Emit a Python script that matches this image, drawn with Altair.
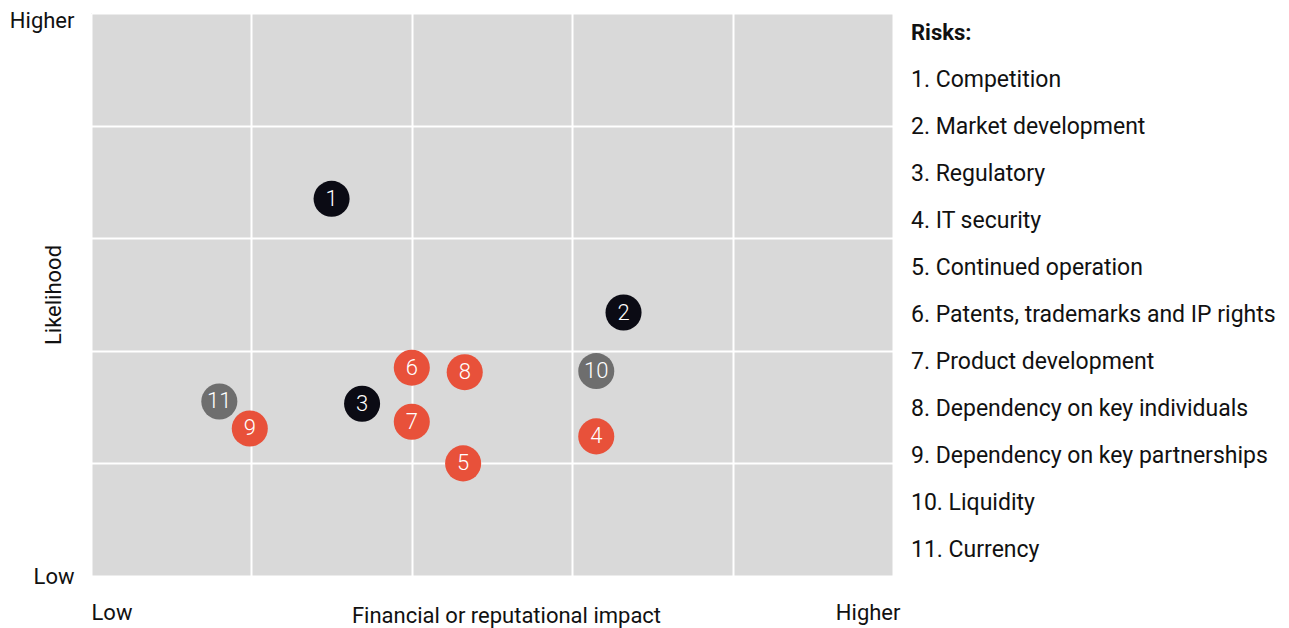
import altair as alt
import pandas as pd

risk_ids = [1, 2, 3, 4, 5, 6, 7, 8, 9, 10, 11]
risk_names = ["Competition", "Market development", "Regulatory", "IT security",
              "Continued operation", "Patents, trademarks and IP rights",
              "Product development", "Dependency on key individuals",
              "Dependency on key partnerships", "Liquidity", "Currency"]
impact = [1.50, 3.32, 1.69, 3.15, 2.32, 2.00, 2.00, 2.33, 0.99, 3.15, 0.80]
likelihood = [3.35, 2.34, 1.53, 1.24, 1.00, 1.85, 1.37, 1.81, 1.31, 1.82, 1.55]
group = ["black", "black", "black", "red", "red", "red", "red", "red", "red", "gray", "gray"]

labels = [f"{i}. {n}" for i, n in zip(risk_ids, risk_names)]
df = pd.DataFrame({"id": [str(i) for i in risk_ids], "label": labels,
                   "impact": impact, "likelihood": likelihood, "group": group})

FONT = "Roboto"
W, H = 802, 563

xenc = alt.X("impact:Q", scale=alt.Scale(domain=[0, 5], nice=False, zero=False),
             axis=alt.Axis(values=[0, 1, 2, 3, 4, 5],
                           labelExpr="datum.value == 0 ? 'Low' : datum.value == 5 ? 'Higher' : ''",
                           labelAlign=alt.condition("datum.value == 0", alt.value("left"), alt.value("right")),
                           labelOffset=alt.condition("datum.value == 5", alt.value(7), alt.value(0)),
                           labelPadding=26, domain=False, ticks=False,
                           title="Financial or reputational impact",
                           titleX=415, titleY=39, titleBaseline="middle", titleAlign="center",
                           gridColor="white", gridWidth=2, gridOpacity=1))
yenc = alt.Y("likelihood:Q", scale=alt.Scale(domain=[0, 5], nice=False, zero=False),
             axis=alt.Axis(values=[0, 1, 2, 3, 4, 5],
                           labelExpr="datum.value == 0 ? 'Low' : datum.value == 5 ? 'Higher' : ''",
                           labelBaseline=alt.condition("datum.value == 5", alt.value("top"), alt.value("middle")),
                           labelOffset=alt.condition("datum.value == 5", alt.value(-3), alt.value(0)),
                           labelPadding=17, domain=False, ticks=False,
                           title="Likelihood", titleX=-38, titleY=H / 2, titleBaseline="middle",
                           titleAlign="center", titleAngle=270,
                           gridColor="white", gridWidth=2, gridOpacity=1))

color_scale = alt.Scale(domain=["black", "red", "gray"], range=["#0b0b14", "#e8513a", "#6e6e6e"])

circles = alt.Chart(df).mark_circle(size=1300, opacity=1).encode(
    x=xenc, y=yenc,
    color=alt.Color("group:N", scale=color_scale, legend=None),
)

nums = alt.Chart(df).mark_text(color="white", fontSize=22, font=FONT, fontWeight=300,
                               baseline="middle", align="center").encode(
    x="impact:Q", y="likelihood:Q", text="id:N"
)

legend_layer = alt.Chart(df).mark_point(size=0, opacity=0).encode(
    x="impact:Q", y="likelihood:Q",
    shape=alt.Shape("label:N", scale=alt.Scale(domain=labels),
                    legend=alt.Legend(title="Risks:", orient="none", legendX=820, legendY=10,
                                      symbolSize=0, symbolOpacity=0, symbolStrokeWidth=0,
                                      labelOffset={"expr": "-23"}, symbolOffset=0,
                                      labelFontSize=23, labelFont=FONT, labelColor="#111",
                                      titleFontSize=22, titleFont=FONT, titleFontWeight="bold",
                                      titleColor="#111", titlePadding=23, rowPadding=23,
                                      labelLimit=500)),
)

chart = alt.layer(circles, nums, legend_layer).properties(
    width=W, height=H,
    autosize=alt.AutoSizeParams(type="none"),
    padding={"left": 83, "top": 5, "right": 1273 - 83 - W, "bottom": 620 - 5 - H},
    background="white",
).configure_view(fill="#d9d9d9", stroke=None).configure_axis(
    labelFont=FONT, labelFontSize=22, labelColor="#111",
    titleFont=FONT, titleFontSize=22, titleFontWeight="normal", titleColor="#111",
)

chart.save("out.html", embed_options={"renderer": "svg", "actions": False})
